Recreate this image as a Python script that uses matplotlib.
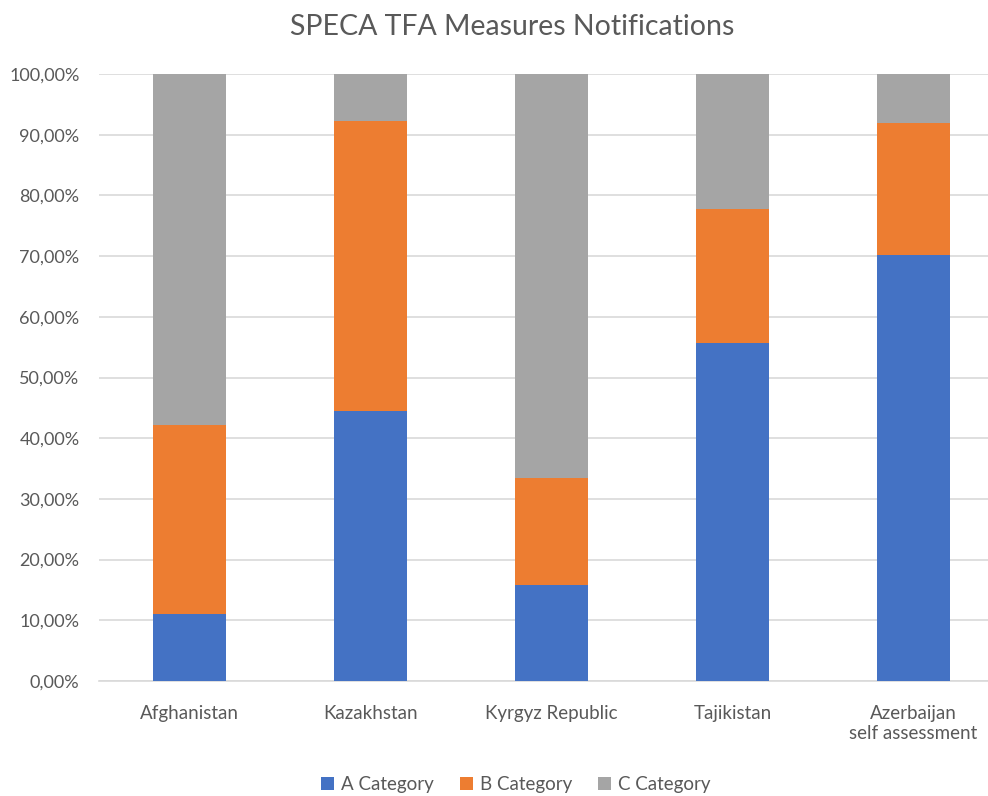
import numpy as np
import matplotlib.pyplot as plt
from matplotlib.ticker import FuncFormatter

# Data (percent of measures)
countries = ["Afghanistan", "Kazakhstan", "Kyrgyz Republic", "Tajikistan", "Azerbaijan\nself assessment"]
cat_a = [11.1, 44.4, 15.8, 55.7, 70.2]
cat_b = [31.1, 47.9, 17.6, 22.1, 21.7]
cat_c = [57.8, 7.7, 66.6, 22.2, 8.1]

colors = ["#4472C4", "#ED7D31", "#A5A5A5"]
text_col = "#595959"

plt.rcParams['font.family'] = ['Lato', 'DejaVu Sans']

fig = plt.figure(figsize=(9.88, 7.96), dpi=100)
# plot area: x 99..988 px, y 74..681 px
ax = fig.add_axes([99 / 988, 1 - 681 / 796, 889 / 988, 607 / 796])

x = np.arange(len(countries))
w = 0.4
a = np.array(cat_a)
b = np.array(cat_b)
c = np.array(cat_c)
ax.bar(x, a, w, color=colors[0], label="A Category", zorder=3)
ax.bar(x, b, w, bottom=a, color=colors[1], label="B Category", zorder=3)
ax.bar(x, c, w, bottom=a + b, color=colors[2], label="C Category", zorder=3)

ax.set_xlim(-0.5, 4.5 - 16 / 181)
ax.set_ylim(0, 100)
ax.set_yticks(np.arange(0, 101, 10))
ax.yaxis.set_major_formatter(FuncFormatter(lambda v, p: f"{v:.2f}".replace(".", ",") + "%"))
ax.grid(axis="y", color="#D9D9D9", linewidth=1.2, zorder=0)
ax.set_axisbelow(True)
for s in ["top", "right", "left"]:
    ax.spines[s].set_visible(False)
ax.spines["bottom"].set_color("#D9D9D9")
ax.spines["bottom"].set_linewidth(1.2)
ax.tick_params(axis="both", length=0, colors=text_col)
ax.tick_params(axis="y", pad=14, labelsize=13)
ax.tick_params(axis="x", pad=17, labelsize=13.5)
ax.set_xticks(x)
ax.set_xticklabels(countries, linespacing=1.25)

fig.suptitle("SPECA TFA Measures Notifications", x=0.518, y=0.982, fontsize=20.5, color=text_col)

fig.legend(loc="lower center", bbox_to_anchor=(0.522, -0.018), ncol=3, frameon=False,
           fontsize=13.5, handlelength=0.7, handleheight=0.7, handletextpad=0.35,
           columnspacing=1.4, labelcolor=text_col)

fig.savefig("out.png", dpi=100)
